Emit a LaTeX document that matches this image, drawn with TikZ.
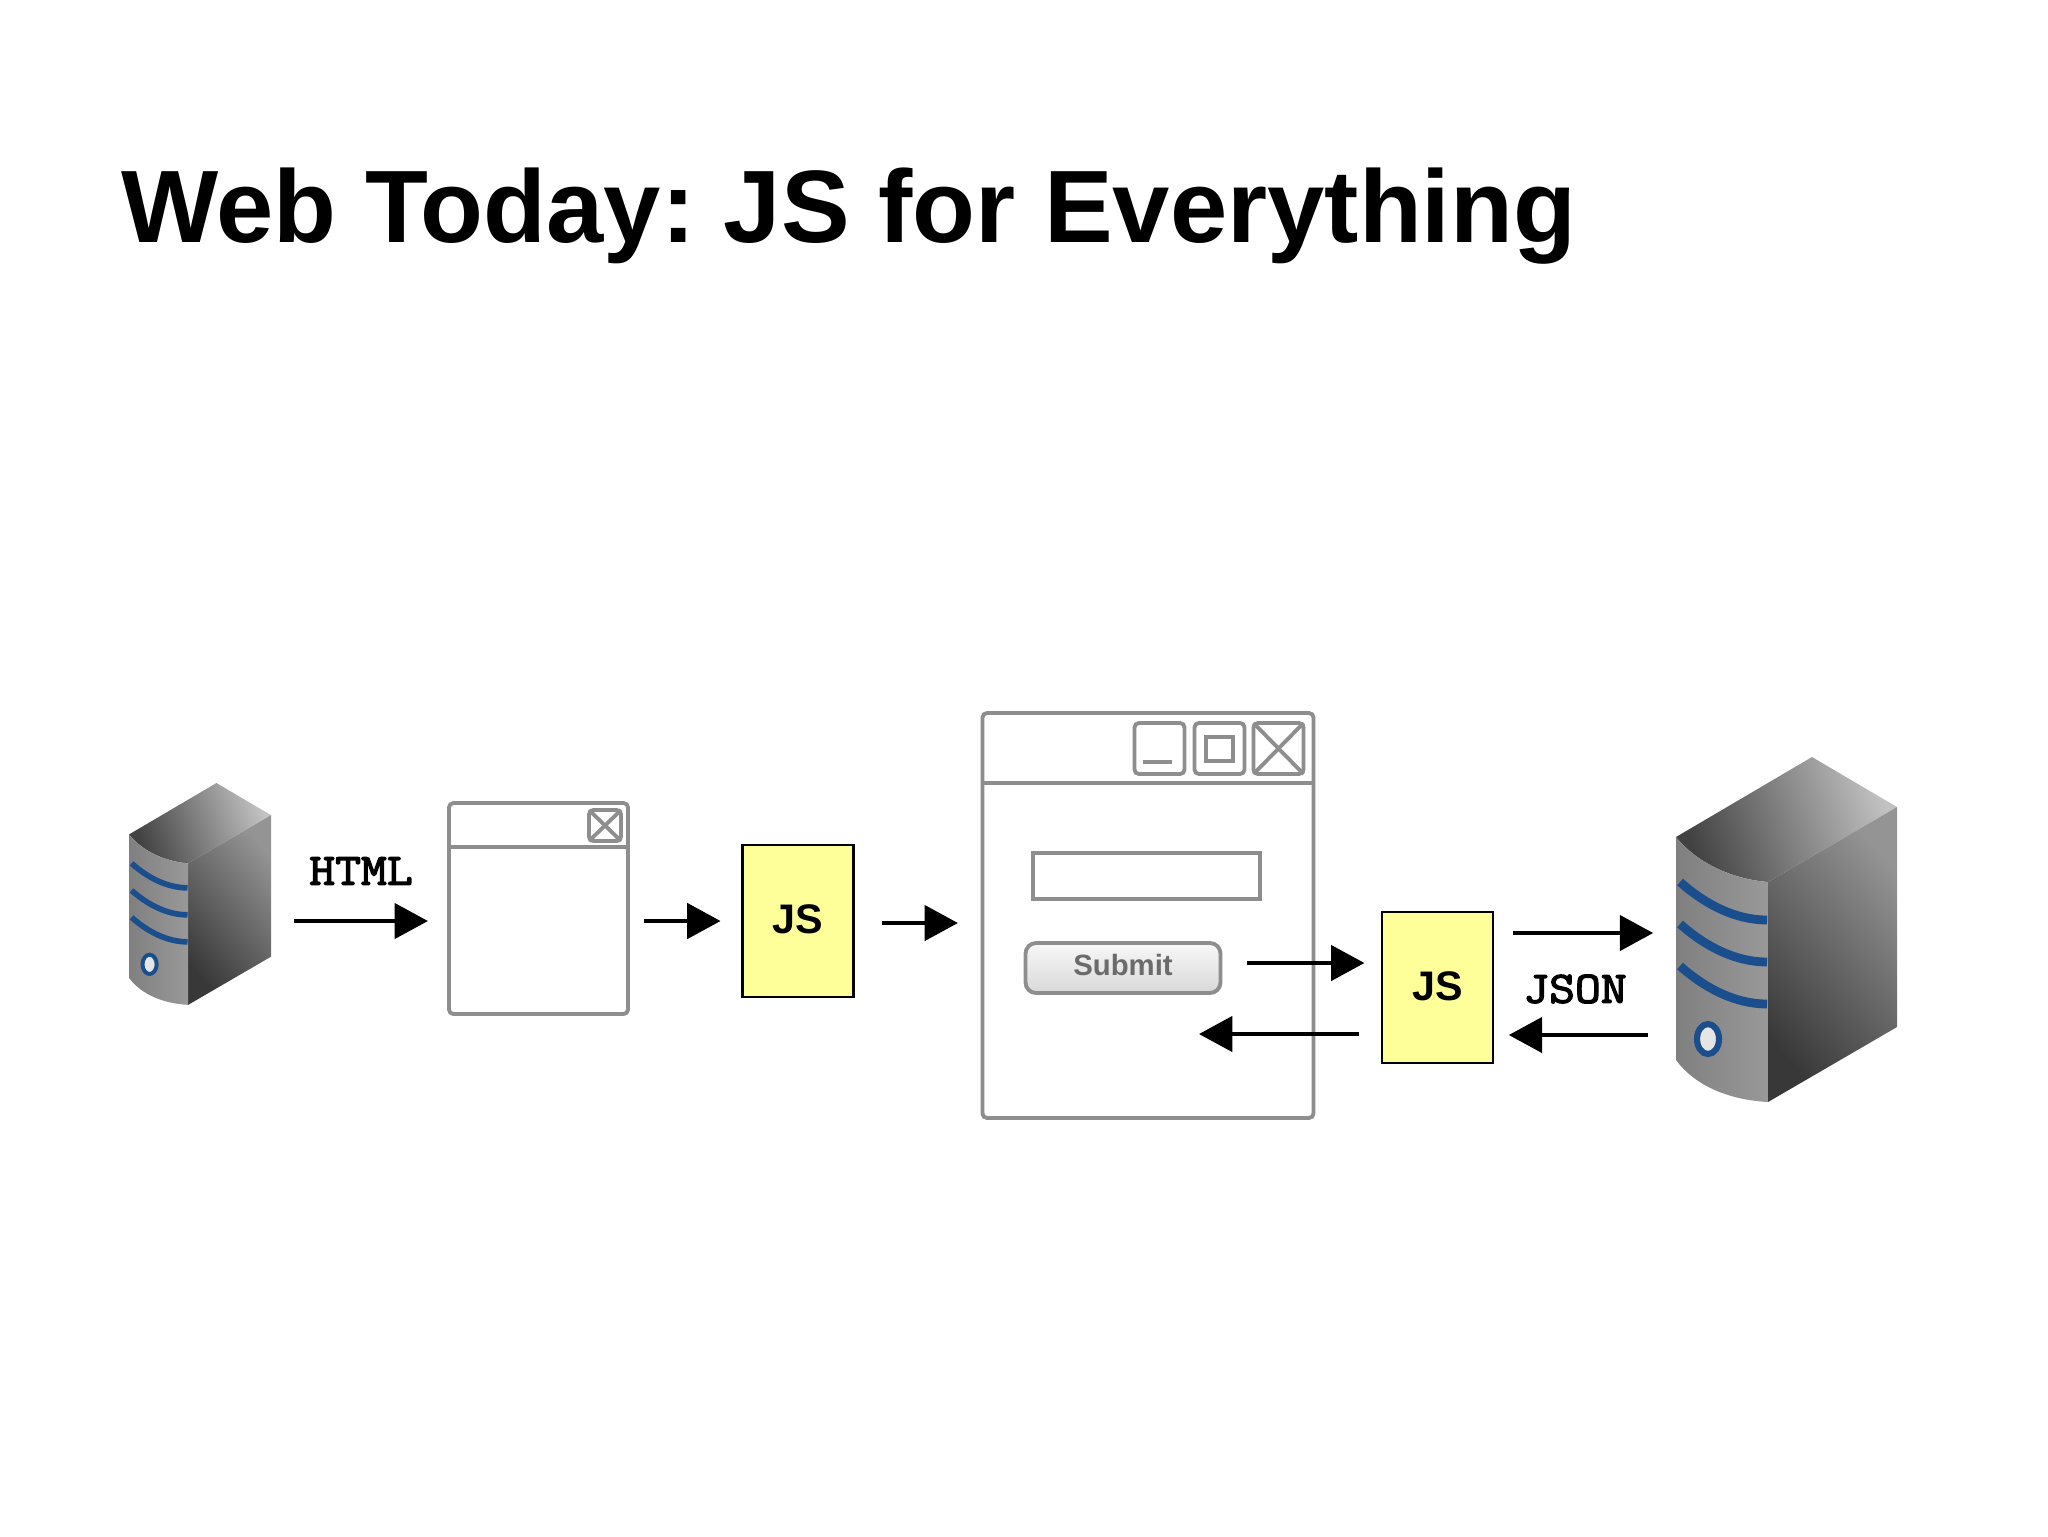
\documentclass[tikz,border=0pt]{standalone}
\usepackage{fontspec}
\setmainfont{Liberation Sans}
\newfontfamily\slabfont[FakeBold=3,FakeStretch=1.12]{Latin Modern Mono}
\usetikzlibrary{arrows.meta}
\definecolor{wingray}{HTML}{8E8E8E}
\definecolor{jsyellow}{HTML}{FFFF99}
\definecolor{srvblue}{HTML}{1B4E8C}
\tikzset{
  winframe/.style={draw=wingray,line width=2.2pt,rounded corners=2.5pt,outer sep=0pt,inner sep=0pt},
  winline/.style={draw=wingray,line width=2.2pt},
  jsbox/.style={draw=black,line width=1.3pt,fill=jsyellow,outer sep=0pt,inner sep=0pt,minimum width=#1,font=\fontsize{23.5}{23.5}\selectfont\bfseries},
  flow/.style={line width=2.4pt,-{Triangle[length=19pt,width=20pt]}},
  wirelabel/.style={font=\fontsize{25.5}{25.5}\selectfont\slabfont,inner sep=0pt},
  serverspot/.style={inner sep=0pt,outer sep=0pt}
}
\newcommand{\drawserver}[3]{
  \begin{scope}[shift={(#1,#2)},scale=#3]
    \shade[left color=black!74,right color=black!24,shading angle=110] (0,80) -- (136,0) -- (221,50) -- (92,125) .. controls (55,122) and (20,105) .. (0,80) -- cycle;
    \shade[left color=black!78,right color=black!42,shading angle=130] (92,125) -- (221,50) -- (221,270) -- (92,345) -- cycle;
    \shade[left color=black!50,middle color=black!30,right color=black!40] (0,80) .. controls (20,105) and (55,122) .. (92,125) -- (92,345) .. controls (55,343) and (20,330) .. (0,303) -- cycle;
    \foreach \stripe in {0,42,84} {
      \draw[srvblue,line width=5*#3 pt] (4,125+\stripe) .. controls (30,148+\stripe) and (60,163+\stripe) .. (91,163+\stripe);
    }
    \draw[srvblue,line width=3.5*#3 pt,fill=black!10] (32,282) ellipse (11 and 15);
  \end{scope}
}

\begin{document}
\frenchspacing
\begin{tikzpicture}[x=0.02cm,y=-0.02cm]
      \useasboundingbox (0,0) rectangle (2048,1536);
      \node[anchor=base west,inner sep=0pt,font=\fontsize{58.6}{58.6}\selectfont\bfseries] (title) at (121,242) {Web Today: JS for Everything};

      \drawserver{129}{783}{0.643}
      \drawserver{1676}{757}{1}
      \node[serverspot,minimum width=2.84cm,minimum height=4.44cm] (srvsmall) at (200,894) {};
      \node[serverspot,minimum width=4.42cm,minimum height=6.9cm] (srvbig) at (1786.5,929.5) {};

      \node[winframe,minimum width=3.58cm,minimum height=4.22cm] (winsmall) at (538.5,908.5) {};
      \draw[winline] (winsmall.west |- 0,847) -- (winsmall.east |- 0,847);
      \node[winframe,minimum width=0.64cm,minimum height=0.62cm] (closesmall) at (605,825.5) {};
      \draw[winline] (closesmall.north west) -- (closesmall.south east);
      \draw[winline] (closesmall.north east) -- (closesmall.south west);

      \node[winframe,minimum width=6.62cm,minimum height=8.1cm] (winbig) at (1148,915.5) {};
      \draw[winline] (winbig.west |- 0,783) -- (winbig.east |- 0,783);
      \node[winframe,minimum width=1cm,minimum height=1.02cm] (minbig) at (1159.5,748.5) {};
      \draw[winline] (1143,762) -- (1172,762);
      \node[winframe,minimum width=1cm,minimum height=1.02cm] (maxbig) at (1219.5,748.5) {};
      \node[draw=wingray,line width=2.2pt,inner sep=0pt,minimum width=0.54cm,minimum height=0.48cm] (maxinner) at (1219.5,749) {};
      \node[winframe,minimum width=1cm,minimum height=1.02cm] (closebig) at (1278.5,748.5) {};
      \draw[winline] (closebig.north west) -- (closebig.south east);
      \draw[winline] (closebig.north east) -- (closebig.south west);

      \node[draw=wingray,line width=2.2pt,inner sep=0pt,minimum width=4.54cm,minimum height=0.92cm] (textfield) at (1146.5,876) {};
      \node[draw=wingray,line width=2.2pt,rounded corners=6pt,top color=black!3,bottom color=black!15,inner sep=0pt,outer sep=0pt,minimum width=3.9cm,minimum height=1cm,text=black!58,font=\fontsize{16.7}{16.7}\selectfont\bfseries] (submit) at (1123,968) {\raisebox{4pt}{Submit}};

      \node[jsbox=2.22cm,minimum height=3.04cm] (jsfirst) at (798,921) {\raisebox{2.5pt}{JS}};
      \node[jsbox=2.22cm,minimum height=3.02cm] (jssecond) at (1437.5,987.5) {\raisebox{2pt}{JS}};

      \node[wirelabel] (htmllabel) at (361,871) {HTML};
      \node[wirelabel] (jsonlabel) at (1575,989) {JSON};
      \coordinate (backend) at (1199,1034);

      \draw[flow,shorten <=13pt,shorten >=12pt] (srvsmall.east |- 0,921) -- (winsmall.west |- 0,921);
      \draw[flow,shorten <=9pt,shorten >=12.5pt] (winsmall.east |- 0,921) -- (jsfirst.west |- 0,921);
      \draw[flow,shorten <=16.5pt,shorten >=14pt] (jsfirst.east |- 0,923) -- (winbig.west |- 0,923);
      \draw[flow,shorten <=14.8pt,shorten >=10pt] (submit.east |- 0,963) -- (jssecond.west |- 0,963);
      \draw[flow,shorten <=13pt] (jssecond.west |- 0,1034) -- (backend);
      \draw[flow,shorten <=11.4pt,shorten >=13pt] (jssecond.east |- 0,933) -- (srvbig.west |- 0,933);
      \draw[flow,shorten <=16pt,shorten >=9pt] (srvbig.west |- 0,1035) -- (jssecond.east |- 0,1035);
    \end{tikzpicture}
\end{document}
